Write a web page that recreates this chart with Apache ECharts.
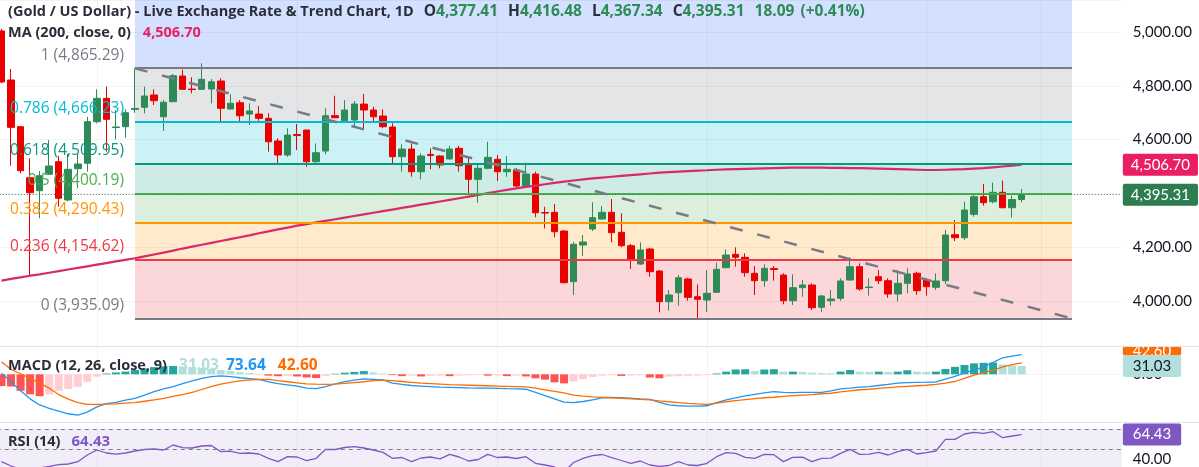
<!DOCTYPE html>
<html><head><meta charset="utf-8">
<script src="https://cdn.jsdelivr.net/npm/echarts@6/dist/echarts.min.js"></script>
<style>html,body{margin:0;padding:0;background:#fff;overflow:hidden}#c{width:1199px;height:467px}</style>
</head><body><div id="c"></div>
<script>
// ---------------- DATA ----------------
const opens = [5004,4821.6,4648,4458.4,4410,4471,4517.8,4375.5,4491.8,4511.9,
4666.5,4753.5,4645,4648,4712,4720,4765.8,4685,4741,4836.4,
4788,4787,4788,4817.8,4713.8,4737.2,4695,4695,4679,4594.8,
4542.7,4619,4635.7,4518,4557.6,4689,4670,4673,4732,4710,
4687.7,4646.8,4536.4,4565,4480.7,4545,4539,4528,4567.7,4505.6,
4452.4,4493.3,4526.8,4480.7,4487,4427.5,4472,4329,4329.7,4260.2,
4071.8,4208,4267.6,4304.8,4329.7,4255.3,4205.6,4137.6,4193.3,4111.5,
3997.4,4030.8,4081.8,4016,4003.7,4032.3,4123.8,4173.6,4162.4,4103,
4075.4,4120.8,4096.6,4001,4049.5,4059.5,3976.6,4001,4010,4078,
4127.5,4050,4090.3,4075.4,4026,4065.8,4103,4078,4051,4075.4,
4246.4,4235.3,4322.3,4387.7,4369,4404,4346.8,4377.41];
const highs = [5012,4862.5,4650,4530.5,4483,4598.5,4540,4546.5,4550,4685,
4787,4796.7,4710,4712.6,4865.29,4796.7,4787,4747.2,4844,4860,
4831.6,4883.6,4825,4828,4768.4,4747,4735,4725,4697.8,4605,
4642,4658,4636,4586,4716.4,4763,4747,4743.5,4769.5,4722.3,
4712.6,4660.6,4582.5,4586,4549,4567.7,4542.7,4577.3,4577.3,4534.2,
4512,4592,4542.7,4539,4493.3,4514,4480.7,4350.6,4360.6,4264,
4220.5,4245.3,4367,4353.2,4379.2,4326,4211.9,4218,4198,4115.2,
4041,4096.6,4086.6,4062,4115,4142.4,4192.2,4199.6,4177.3,4130,
4136.3,4130,4103,4099.3,4078,4065.8,4022.3,4041,4084.4,4162.4,
4140,4084.4,4115,4084.4,4115,4121.6,4109,4084.4,4103,4264,
4301,4369,4394,4435,4440,4447.2,4391.4,4416.48];
const lows = [4810,4503,4474.7,4096.6,4307.4,4468.4,4350.6,4370,4419,4480.7,
4660.6,4555,4601,4607,4700,4697.8,4728.6,4632,4741,4785,
4772,4785,4735,4666.5,4712,4662.8,4654,4670,4555,4505.6,
4536,4561,4499,4513,4545.3,4680,4668,4644,4635.7,4666.5,
4642,4512,4480.7,4462,4452.4,4489.6,4493.3,4526,4480.7,4400.4,
4365.4,4489.6,4446,4462,4422.7,4422.7,4311,4270,4236.8,4065.8,
4022.3,4168,4260.2,4303,4218,4199.6,4119,4133.8,4090.3,3958,
3964,3982.5,4001,3935.09,3960,4030,4121.6,4127.5,4090.3,4022.3,
4053,4075.4,3987.7,3985,4016,3966.5,3958,3982.5,4001,4075.4,
4038.3,4020,4063.2,4012,3997.4,4028.6,4022.3,4020,4041,4063.2,
4223,4226.8,4313.4,4354.3,4363,4344.6,4309.7,4367.34];
const closes = [4814,4645.7,4484.4,4402.6,4465.8,4501.8,4381.8,4489.6,4509.3,4666.5,
4753.5,4675.5,4647,4700,4716,4762,4744.6,4738.7,4837.5,4787,
4786,4824,4815,4716.4,4735,4688.8,4706.3,4679,4592,4542.7,
4617,4615,4518,4551.3,4688.8,4681.4,4710,4732.3,4710,4685,
4648,4536.4,4565,4480.7,4539,4541,4505.6,4565,4503,4452.4,
4493.3,4534.2,4480.7,4489.6,4427.5,4472,4328.2,4327,4257.6,4068,
4210.8,4219.3,4309.7,4329.7,4253.9,4205.6,4155,4189.6,4109,3997.4,
4022.3,4086.6,4013.7,4006.3,4028.6,4117.8,4171,4162.4,4105.2,4075.4,
4121.6,4117,4001,4049.5,4059.5,3975,4018.6,4007.4,4074.4,4127.5,
4044.6,4052,4075.4,4026,4065.8,4100.4,4038.3,4053.2,4074.4,4245.3,
4235.3,4338.3,4387.7,4365.4,4404,4346.8,4377.22,4395.31];
const ma200 = [4076,4082,4088,4094,4099,4105,4111,4117,4123,4129,
4135,4141,4147,4153,4159,4166,4173,4180,4187,4195,
4202,4209,4216,4223,4230,4237,4244,4252,4259,4266,
4273,4280,4286,4292,4298,4304,4310,4316,4322,4328,
4334,4340,4346,4352,4358,4364,4370,4376,4382,4388,
4394,4401,4407,4413,4419,4424,4429,4434,4439,4444,
4448,4452,4456,4459,4462,4465,4468,4471,4474,4477,
4479,4481,4483,4485,4486,4488,4489,4490,4491,4492,
4493,4494,4495,4496,4496,4496,4496,4495,4495,4494,
4494,4493,4492,4491,4490,4489,4488,4487,4487,4488,
4489,4490,4492,4494,4497,4500,4503,4506.70];
const macdLine = [3.7,-27.5,-62,-92,-115,-128,-138,-148,-153,-142,
-122,-110,-105,-97,-90,-78,-65,-55,-46,-35,
-25,-15,-9,-6,-9,-13,-16,-19,-28,-35,
-40,-44,-52,-54,-46,-36,-27.5,-22,-17.5,-19,
-21,-33,-38,-42,-44,-46,-48,-49,-50,-51,
-51.5,-52,-52.5,-54,-55,-56,-68,-80,-92,-104,
-106,-102,-96,-88,-87,-87.5,-89,-92,-94,-105,
-115,-118,-119,-119,-118,-106,-96,-88,-81,-75,
-70,-65,-68,-68.8,-68,-67.5,-67.5,-62,-55,-52,
-48,-46,-42,-38,-33,-31,-30,-29.5,-28.8,-18,
-8,5,16,28,45,62,68,73.64];
const signalLine = [47,18,2,-15,-33,-52,-76,-93,-106,-113,
-113,-112,-111,-108,-106,-101,-96,-90,-83,-76,
-68,-57,-46,-37,-30,-25,-21,-19.5,-19,-24,
-28,-32,-36,-37,-37.5,-36.5,-34,-31,-28,-24,
-22,-24,-27,-30,-33,-35,-37,-39,-40,-41,
-42,-43,-44,-45,-46,-47,-52,-58,-64,-70,
-78,-82,-85,-86.5,-88,-90,-92,-94,-96,-100,
-103,-106,-109,-111,-112.5,-108,-103,-99,-95,-91,
-88,-86,-83,-80,-78,-76,-73,-71,-66,-62,
-58,-56,-53,-50,-47,-45,-43,-41,-38,-33,
-27,-15,-3,6,15,28,36,42.60];
const macdHist = [-44,-46,-62,-75,-82,-76,-62,-55,-47,-28,
-9,3,7,10,16,22,27,30,31,29,
27,24,20,16,12,8,5,2,-5,-7,
-6,-8,-12,-14,-6,2,6,9,12,7,
3,-3,-7,-5,-8,-6,-5,-7,-5,-4,
-3,-5,-4,-7,-5,-8,-15,-20,-30,-34,
-27,-18,-10,-5,-4,-6,-5,-4,-12,-15,
-9,-7,-6,-5,-3,3,10,18,19,12,
18,19,10,10,9,6,5,4,10,16,
10,9,10,9,10,15,10,9,10,20,
28,35,41,43,44,37,33,31.03];
const rsi14 = [37.3,33,30,28,31,32.6,34.4,35,37.3,44,
49,46,44.8,46,48,49.5,50,49,54,51.3,
51,53,53.5,47.4,47.8,45.6,46,45,40.7,37.3,
42.3,42,38.3,40.7,49.7,49.5,51.5,52.3,51,49,
46.6,40.7,41.5,37.3,41,42,40.2,44.6,42,38,
39.5,44.6,41.5,42,40.5,42.3,35.7,34,32,27,
36.5,40.7,43.3,44.5,41.4,38.5,35.7,38,34,32.6,
33.5,37.4,34,33.5,35.7,42.3,46.3,45.6,41.7,40.7,
44.7,44.3,37.4,41.7,41.9,37.4,40.7,40.9,45.6,49.7,
44.7,44.8,46.7,44,47.4,49.7,45,46.3,48,59.7,
59.6,65,66.6,65.7,67.3,61.3,63,64.43];
const fibRatioLabels = ['1','0.786','0.618','0.5','0.382','0.236','0'];
const fibLevels = [4865.29,4666.23,4509.95,4400.19,4290.43,4154.62,3935.09];
const fibStartIdx = 14, fibEndIdx = 112.27;
const trendLine = [[14,4865.29],[112.27,3935.09]];
const monthLineIdx = [10,31,52,74,97,109];
const priceTicks = [4000,4200,4400,4600,4800,5000];
const macdTicks = [0];
const rsiTicks = [40];
const N_SLOTS = 118;
const categories = Array.from({length:N_SLOTS},(_,i)=>'D'+(i+1));

// ---------------- STYLE ----------------
const UP='#2e8b57', DOWN='#eb0000';
const fibLineColors=['#787b86','#00bcd4','#089981','#4caf50','#ff9800','#f23645','#787b86'];
const fibFills=['rgba(41,98,255,0.2)','rgba(120,123,134,0.2)','rgba(0,188,212,0.2)','rgba(8,153,129,0.2)','rgba(76,175,80,0.2)','rgba(255,152,0,0.2)','rgba(242,54,69,0.2)'];
const FONT='Lato', LFONT='Open Sans', LSIZE=14.5;
const GRIDC='rgba(42,46,57,0.06)';
const Y0MIN=3830.1, Y0MAX=5119;
const HIDE={color:'rgba(0,0,0,0)',width:0};

const fmt=v=>Number(v).toLocaleString('en-US',{minimumFractionDigits:2,maximumFractionDigits:2});
const last=opens.length-1;
const chg=closes[last]-closes[last-1];
const chgPct=chg/closes[last-1]*100;

const vLines=monthLineIdx.map(i=>({xAxis:i,lineStyle:{color:GRIDC,width:1,type:'solid'},label:{show:false}}));
function tag(val,bg,fg,extra){
  return Object.assign({show:true,position:'end',distance:1,formatter:fmt(val),backgroundColor:bg,color:fg,
    fontSize:15,fontFamily:FONT,lineHeight:18,padding:[2,8,2,8],borderRadius:2},extra||{});
}

const fibZones=[[{coord:[fibStartIdx,fibLevels[0]],itemStyle:{color:fibFills[0]}},{coord:[fibEndIdx,Y0MAX]}]];
for(let k=0;k<fibLevels.length-1;k++){
  fibZones.push([{coord:[fibStartIdx,fibLevels[k]],itemStyle:{color:fibFills[k+1]}},{coord:[fibEndIdx,fibLevels[k+1]]}]);
}
const fibLines=fibLevels.map((lv,k)=>[
  {coord:[fibStartIdx,lv],lineStyle:{color:fibLineColors[k],width:2,type:'solid'},
   label:{show:true,position:'start',distance:11,offset:[0,-13],formatter:fibRatioLabels[k]+' ('+fmt(lv)+')',
     color:fibLineColors[k],fontSize:15.5,fontFamily:LFONT}},
  {coord:[fibEndIdx,lv]}
]);

const GL=-3.27, GR=77.17;
const chart=echarts.init(document.getElementById('c'),null,{renderer:'canvas'});
const hdr='{t|(Gold / US Dollar) - Live Exchange Rate & Trend Chart, 1D}{s| }{k|O}{v|'+fmt(opens[last])+'}{s| }{k|H}{v|'+fmt(highs[last])+
  '}{s| }{k|L}{v|'+fmt(lows[last])+'}{s| }{k|C}{v|'+fmt(closes[last])+'}{s| }{v|'+chg.toFixed(2)+'}{g| }{v|('+(chg>=0?'+':'')+chgPct.toFixed(2)+'%)}';
const st=(c,sz)=>({color:c,fontSize:sz||LSIZE,fontFamily:LFONT});
const baseRich={t:st('#2a2e39'),k:st('#2a2e39',15.5),v:st(UP,15.5),s:{width:10,fontSize:LSIZE},g:{width:6,fontSize:LSIZE}};

chart.setOption({
  animation:false,
  backgroundColor:'#fff',
  textStyle:{fontFamily:FONT},
  title:[
    {left:8,top:4,padding:0,text:hdr,textStyle:{rich:baseRich}},
    {left:8,top:25,padding:0,text:'{t|MA (200, close, 0)}{s| }{m|'+fmt(ma200[last])+'}',
      textStyle:{rich:Object.assign({},baseRich,{m:st('#e91e63'),s:{width:12,fontSize:LSIZE}})}},
    {left:8,top:358,padding:0,text:'{t|MACD (12, 26, close, 9)}{s| }{h|'+fmt(macdHist[last])+'}{g| }{b|'+fmt(macdLine[last])+'}{s| }{o|'+fmt(signalLine[last])+'}',
      textStyle:{rich:Object.assign({},baseRich,{h:st('#b2dfdb',15.5),b:st('#2196f3',15.5),o:st('#ff6d00',15.5),s:{width:12,fontSize:LSIZE},g:{width:7,fontSize:LSIZE}})}},
    {left:8,top:434,padding:0,text:'{t|RSI (14)}{s| }{r|'+fmt(rsi14[last])+'}',
      textStyle:{rich:Object.assign({},baseRich,{r:st('#7e57c2',15),s:{width:11,fontSize:LSIZE}})}}
  ],
  graphic:[
    {type:'line',z:100,shape:{x1:0,y1:346.5,x2:1199,y2:346.5},style:{stroke:'#e0e3eb',lineWidth:1}},
    {type:'line',z:100,shape:{x1:0,y1:422.5,x2:1199,y2:422.5},style:{stroke:'#e0e3eb',lineWidth:1}}
  ],
  grid:[
    {left:GL,right:GR,top:0,height:346.7,outerBoundsMode:'none'},
    {left:GL,right:GR,top:346.7,height:75.6,outerBoundsMode:'none'},
    {left:GL,right:GR,top:422.3,height:46.7,outerBoundsMode:'none'}
  ],
  xAxis:[
    {type:'category',gridIndex:0,data:categories,show:false},
    {type:'category',gridIndex:1,data:categories,show:false},
    {type:'category',gridIndex:2,data:categories,show:false},
    {type:'value',gridIndex:0,min:-0.5,max:N_SLOTS-0.5,show:false}
  ],
  yAxis:[
    {type:'value',gridIndex:0,position:'right',min:Y0MIN,max:Y0MAX,splitNumber:6,minInterval:200,maxInterval:200,
      axisLine:{show:false},axisTick:{show:false},splitLine:{show:true,lineStyle:{color:GRIDC}},
      axisLabel:{margin:11,color:'#131722',fontSize:15,fontFamily:FONT,showMinLabel:false,showMaxLabel:false,
        formatter:v=>priceTicks.includes(Math.round(v))&&Math.abs(v-Math.round(v))<1e-6?fmt(v):''}},
    {type:'value',gridIndex:1,position:'right',min:-180,max:103.5,interval:180,
      axisLine:{show:false},axisTick:{show:false},splitLine:{show:true,lineStyle:{color:GRIDC}},
      axisLabel:{margin:11,color:'#131722',fontSize:15,fontFamily:FONT,showMinLabel:false,showMaxLabel:false,
        formatter:v=>macdTicks.includes(v)?fmt(v):''}},
    {type:'value',gridIndex:2,position:'right',min:30,max:76.7,interval:10,
      axisLine:{show:false},axisTick:{show:false},splitLine:{show:false},
      axisLabel:{margin:11,color:'#131722',fontSize:15,fontFamily:FONT,showMinLabel:false,showMaxLabel:false,
        formatter:v=>rsiTicks.includes(v)?fmt(v):''}}
  ],
  series:[
    {name:'Fib',type:'line',xAxisIndex:3,yAxisIndex:0,data:trendLine,symbol:'none',silent:true,z:1,
      lineStyle:{opacity:0,width:0},
      markArea:{silent:true,data:fibZones},
      markLine:{silent:true,symbol:['none','none'],data:fibLines}},
    {name:'XAUUSD',type:'candlestick',xAxisIndex:0,yAxisIndex:0,z:3,barWidth:7,
      data:opens.map((o,i)=>[o,closes[i],lows[i],highs[i]]),
      itemStyle:{color:UP,color0:DOWN,borderColor:UP,borderColor0:DOWN,borderWidth:1},
      markLine:{silent:true,symbol:['none','none'],data:vLines.concat([
        {yAxis:closes[last],lineStyle:{color:'#2e7d50',type:[1,2],width:1},label:tag(closes[last],'#2e7d50','#fff')}
      ])}},
    {name:'MA200',type:'line',xAxisIndex:0,yAxisIndex:0,z:4,data:ma200,symbol:'none',
      lineStyle:{color:'#d8296a',width:2.2},
      markLine:{silent:true,symbol:['none','none'],data:[
        {yAxis:ma200[last],lineStyle:HIDE,label:tag(ma200[last],'#e91e63','#fff')}
      ]}},
    {name:'Trend',type:'line',xAxisIndex:3,yAxisIndex:0,z:5,data:trendLine,symbol:'none',silent:true,
      lineStyle:{color:'#787b86',width:2.5,type:[13,15]}},
    {name:'Hist',type:'bar',xAxisIndex:1,yAxisIndex:1,z:2,barWidth:8,data:macdHist,
      itemStyle:{color:p=>{const v=macdHist[p.dataIndex];const pv=p.dataIndex>0?macdHist[p.dataIndex-1]:v;
        return v>=0?(v>=pv?'#26a69a':'#b2dfdb'):(v<=pv?'#ff5252':'#ffcdd2');}},
      markLine:{silent:true,symbol:['none','none'],data:vLines}},
    {name:'MACD',type:'line',xAxisIndex:1,yAxisIndex:1,z:3,data:macdLine,symbol:'none',lineStyle:{color:'#2196f3',width:1.3}},
    {name:'Signal',type:'line',xAxisIndex:1,yAxisIndex:1,z:3,data:signalLine,symbol:'none',lineStyle:{color:'#ff6d00',width:1.3},
      markLine:{silent:true,symbol:['none','none'],data:[
        {yAxis:signalLine[last],lineStyle:HIDE,label:tag(signalLine[last],'#ff6d00','#fff',{lineHeight:9,padding:[0,10,0,10],offset:[0,-12]})}
      ]}},
    {name:'HistTag',type:'line',xAxisIndex:1,yAxisIndex:1,z:6,data:macdHist,symbol:'none',silent:true,lineStyle:HIDE,
      markLine:{silent:true,symbol:['none','none'],data:[
        {yAxis:macdHist[last],lineStyle:HIDE,label:tag(macdHist[last],'#b2dfdb','#131722',{padding:[2,10,2,10]})}
      ]}},
    {name:'RSI',type:'line',xAxisIndex:2,yAxisIndex:2,z:3,data:rsi14,symbol:'none',lineStyle:{color:'#7e57c2',width:1.3},
      markArea:{silent:true,data:[[{yAxis:70,itemStyle:{color:'rgba(126,87,194,0.1)'}},{yAxis:30}]]},
      markLine:{silent:true,symbol:['none','none'],data:vLines.concat([
        {yAxis:70,lineStyle:{color:'#787b86',type:[4,4],width:1},label:{show:false}},
        {yAxis:50,lineStyle:{color:'#787b86',type:[4,4],width:1},label:{show:false}},
        {yAxis:rsi14[last],lineStyle:HIDE,label:tag(rsi14[last],'#7e57c2','#fff',{padding:[2,10,2,10]})}
      ])}}
  ]
});
</script></body></html>
